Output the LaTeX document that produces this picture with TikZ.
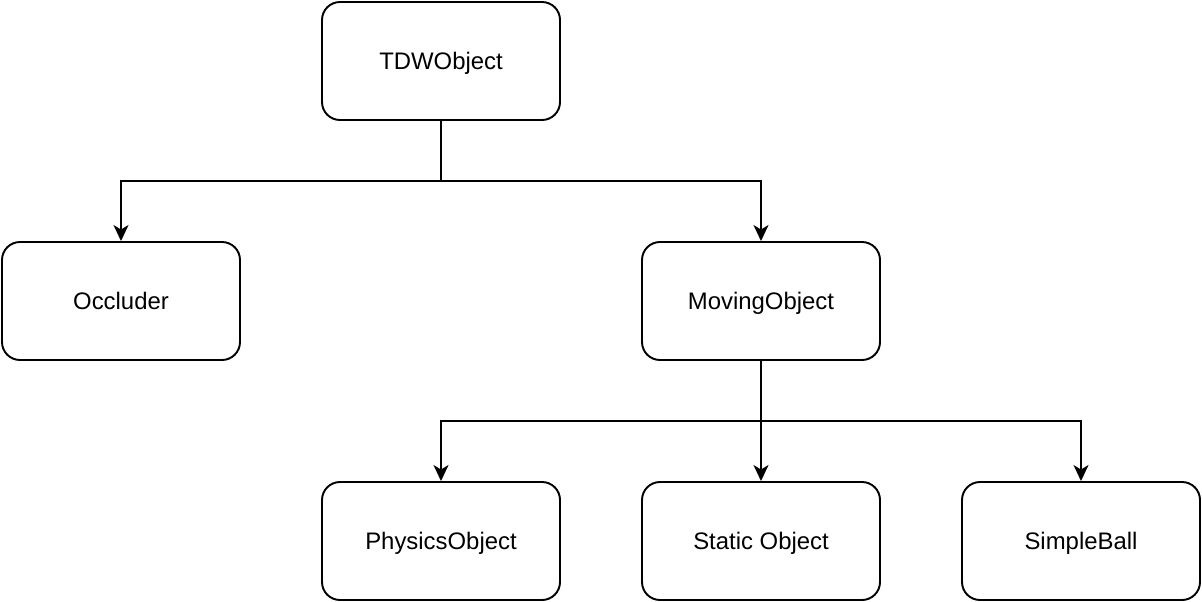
\documentclass[tikz,border=0pt]{standalone}
\usepackage{fontspec}
\setmainfont{Liberation Sans}
\usetikzlibrary{arrows.meta}

\begin{document}
\begin{tikzpicture}[
    objbox/.style={draw, line width=1.1pt, rounded corners=0.36cm,
        minimum width=4.76cm, minimum height=2.36cm,
        text height=9.7pt, text depth=0pt,
        font=\fontsize{13.6}{16}\selectfont},
    link/.style={line width=1.1pt},
    arr/.style={link, -{Stealth[length=0.32cm, width=0.3cm, inset=0.09cm]}}
]
    \useasboundingbox (0,0) rectangle (24.04,-12.04);

    % Classes
    \node[objbox] (tdw) at (8.82,-1.22) {TDWObject};
    \node[objbox] (occluder) at (2.42,-6.02) {Occluder};
    \node[objbox] (moving) at (15.22,-6.02) {MovingObject};
    \node[objbox] (physics) at (8.82,-10.82) {PhysicsObject};
    \node[objbox] (static) at (15.22,-10.82) {Static Object};
    \node[objbox] (ball) at (21.62,-10.82) {SimpleBall};

    % Inheritance from TDWObject
    \coordinate (split1) at (8.82,-3.62);
    \draw[link] (tdw) -- (split1);
    \draw[arr] (split1) -| (occluder);
    \draw[arr] (split1) -| (moving);

    % Inheritance from MovingObject
    \coordinate (split2) at (15.22,-8.42);
    \draw[link] (moving) -- (split2);
    \draw[arr] (split2) -| (physics);
    \draw[arr] (split2) -- (static);
    \draw[arr] (split2) -| (ball);
\end{tikzpicture}
\end{document}
